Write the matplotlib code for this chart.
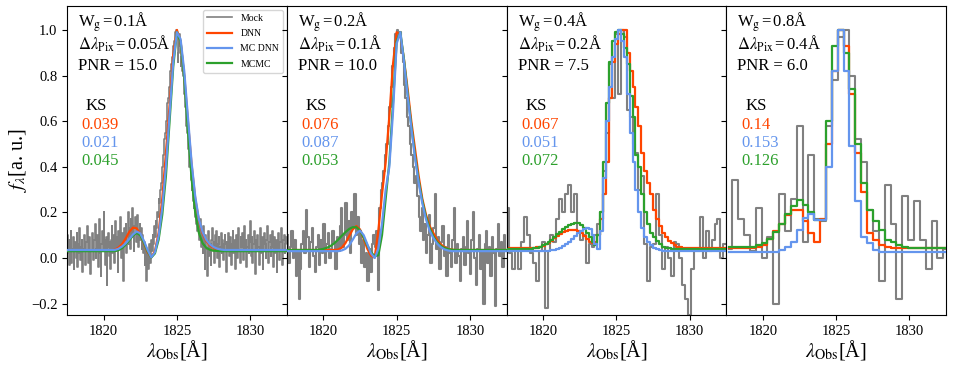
import numpy as np
import matplotlib
matplotlib.use('Agg')
import matplotlib.pyplot as plt

plt.rcParams['font.family'] = ['Liberation Serif', 'DejaVu Serif']
plt.rcParams['mathtext.fontset'] = 'stix'

# ---------------- data ----------------
panel_wg = ['0.1', '0.2', '0.4', '0.8']
panel_pix = ['0.05', '0.1', '0.2', '0.4']
panel_pnr = ['15.0', '10.0', '7.5', '6.0']
ks_dnn = ['0.039', '0.076', '0.067', '0.14']
ks_mcdnn = ['0.021', '0.087', '0.051', '0.153']
ks_mcmc = ['0.045', '0.053', '0.072', '0.126']

# model knots for panels 1 and 2 (every 0.25 A)
knots = np.arange(1817.5, 1832.51, 0.25)

dnn_1 = [0.033, 0.033, 0.033, 0.033, 0.033, 0.033, 0.033, 0.033, 0.033, 0.033, 0.033, 0.033, 0.033,
         0.036, 0.045, 0.06, 0.085, 0.115, 0.133, 0.13, 0.105, 0.065, 0.025, 0.003, 0.03, 0.11,
         0.26, 0.46, 0.67, 0.89, 1.0, 0.95, 0.8, 0.6, 0.41, 0.26, 0.165, 0.11, 0.075, 0.055, 0.044,
         0.038, 0.035,
         0.033, 0.033, 0.033, 0.033, 0.033, 0.033, 0.033, 0.033, 0.033, 0.033, 0.033, 0.033, 0.033,
         0.033, 0.033, 0.033, 0.033, 0.033]
mcdnn_1 = [0.035, 0.035, 0.035, 0.035, 0.035, 0.035, 0.035, 0.035, 0.035, 0.035, 0.035, 0.035, 0.035, 0.035,
           0.04, 0.05, 0.064, 0.083, 0.103, 0.116, 0.108, 0.075, 0.035, 0.003, 0.025, 0.095, 0.22, 0.4,
           0.63, 0.86, 0.99, 0.96, 0.82, 0.62, 0.42, 0.27, 0.17, 0.115, 0.08, 0.06, 0.048, 0.041, 0.037,
           0.035, 0.035, 0.035, 0.035, 0.035, 0.035, 0.035, 0.035, 0.035, 0.035, 0.035, 0.035, 0.035,
           0.035, 0.035, 0.035, 0.035, 0.035]
mcmc_1 = [0.03, 0.03, 0.03, 0.03, 0.03, 0.03, 0.03, 0.03, 0.03, 0.03, 0.03, 0.03, 0.03, 0.03,
          0.034, 0.043, 0.058, 0.078, 0.098, 0.11, 0.1, 0.068, 0.03, 0.002, 0.02, 0.08, 0.19, 0.36,
          0.6, 0.84, 0.99, 0.95, 0.79, 0.56, 0.35, 0.2, 0.11, 0.065, 0.045, 0.036, 0.032, 0.031, 0.03,
          0.03, 0.03, 0.03, 0.03, 0.03, 0.03, 0.03, 0.03, 0.03, 0.03, 0.03, 0.03, 0.03,
          0.03, 0.03, 0.03, 0.03, 0.03]

dnn_2 = [0.035, 0.035, 0.035, 0.035, 0.035, 0.035, 0.035, 0.035, 0.035, 0.035, 0.035, 0.035, 0.035, 0.035,
         0.037, 0.045, 0.065, 0.095, 0.125, 0.14, 0.125, 0.085, 0.04, 0.01, 0.002, 0.12, 0.28, 0.42,
         0.62, 0.85, 0.99, 0.98, 0.87, 0.74, 0.6, 0.48, 0.36, 0.26, 0.19, 0.14, 0.11, 0.08, 0.06,
         0.048, 0.04, 0.037,
         0.035, 0.035, 0.035, 0.035, 0.035, 0.035, 0.035, 0.035, 0.035, 0.035, 0.035, 0.035, 0.035,
         0.035, 0.035]
mcdnn_2 = [0.03, 0.03, 0.03, 0.03, 0.03, 0.03, 0.03, 0.03, 0.03, 0.03, 0.03, 0.03, 0.03, 0.03, 0.03,
           0.033, 0.04, 0.055, 0.08, 0.108, 0.12, 0.1, 0.06, 0.02, 0.0, 0.04, 0.15, 0.3, 0.4, 0.64,
           0.94, 0.99, 0.86, 0.71, 0.57, 0.44, 0.33, 0.24, 0.17, 0.12, 0.088, 0.064, 0.048, 0.038, 0.033,
           0.03, 0.03, 0.03, 0.03, 0.03, 0.03, 0.03, 0.03, 0.03, 0.03, 0.03, 0.03, 0.03, 0.03,
           0.03, 0.03]
mcmc_2 = [0.035, 0.035, 0.035, 0.035, 0.035, 0.035, 0.035, 0.035, 0.035,
          0.037, 0.04, 0.045, 0.053, 0.065, 0.08, 0.097, 0.113, 0.127, 0.135, 0.135, 0.12, 0.09,
          0.055, 0.025, 0.008, 0.012, 0.1, 0.26, 0.42, 0.68, 0.95, 0.99, 0.87, 0.72, 0.58, 0.45,
          0.34, 0.25, 0.18, 0.13, 0.095, 0.07, 0.053, 0.044, 0.039, 0.036,
          0.035, 0.035, 0.035, 0.035, 0.035, 0.035, 0.035, 0.035, 0.035, 0.035, 0.035, 0.035, 0.035,
          0.035, 0.035]

# mock spectrum, panel 1 (0.05 A pixels)
mock_1 = [0.10, 0.02, 0.08, -0.03, 0.05, 0.12, -0.02, 0.04, 0.09, -0.05, 0.03, 0.07, 0.00, 0.11, -0.04, 0.06, 0.02, 0.13, -0.01, 0.05,
          0.08, -0.06, 0.04, 0.10, 0.01, -0.03, 0.07, 0.14, 0.02, -0.02, 0.09, 0.05, -0.07, 0.03, 0.11, 0.06, -0.01, 0.08, 0.15, 0.00,
          0.04, 0.10, -0.04, 0.07, 0.17, 0.02, -0.08, 0.06, 0.12, 0.03, 0.20, 0.08, -0.03, 0.09, -0.12, 0.05, 0.11, 0.01, 0.07, -0.05,
          0.08, 0.14, 0.02, 0.10, -0.02, 0.06, 0.16, 0.03, 0.09, -0.06, 0.12, 0.04, 0.18, 0.07, 0.00, 0.11, 0.05, -0.10, 0.13, 0.08,
          0.15, 0.02, 0.10, 0.20, 0.06, 0.13, 0.04, 0.17, 0.09, 0.22, 0.11, 0.03, 0.14, 0.18, 0.07, 0.12, 0.19, 0.05, 0.10, 0.15,
          0.08, 0.13, 0.04, 0.10, 0.02, 0.07, -0.03, 0.05, -0.10, 0.03, 0.01, -0.05, 0.06, -0.02, 0.04, 0.08, 0.03, 0.10, 0.06, 0.14,
          0.09, 0.16, 0.13, 0.20, 0.18, 0.26, 0.24, 0.30, 0.33, 0.38, 0.40, 0.45, 0.47, 0.52, 0.55, 0.60, 0.63, 0.68, 0.70, 0.75,
          0.78, 0.82, 0.85, 0.88, 0.90, 0.93, 0.95, 0.96, 0.99, 1.00, 0.97, 0.86, 0.90, 0.98, 0.93, 0.84, 0.88, 0.82, 0.80, 0.74,
          0.72, 0.66, 0.63, 0.58, 0.55, 0.48, 0.46, 0.40, 0.42, 0.34, 0.30, 0.33, 0.25, 0.22, 0.26, 0.18, 0.15, 0.20, 0.12, 0.16,
          0.08, 0.13, 0.17, 0.05, 0.11, 0.02, 0.14, 0.07, -0.05, 0.10, 0.04, -0.08, 0.09, 0.12, 0.01, 0.06, -0.03, 0.08, 0.13, 0.03,
          0.07, -0.02, 0.10, 0.04, 0.12, 0.00, 0.06, 0.09, -0.04, 0.05, 0.11, 0.02, 0.08, -0.01, 0.06, 0.10, 0.03, -0.06, 0.07, 0.04,
          0.11, 0.01, 0.05, 0.09, -0.03, 0.06, 0.12, 0.02, 0.08, -0.05, 0.04, 0.10, 0.00, 0.07, 0.13, 0.03, -0.02, 0.09, 0.05, 0.11,
          -0.01, 0.06, 0.14, 0.03, 0.08, -0.04, 0.05, 0.10, 0.02, 0.07, 0.16, 0.01, 0.09, -0.02, 0.06, 0.12, 0.04, -0.07, 0.08, 0.03,
          0.10, 0.05, -0.03, 0.07, 0.13, 0.02, 0.09, -0.05, 0.04, 0.11, 0.06, 0.00, 0.08, 0.14, 0.03, -0.02, 0.07, 0.10, 0.01, 0.05,
          0.12, -0.04, 0.06, 0.09, 0.02, 0.08, -0.06, 0.04, 0.11, 0.05, -0.01, 0.07, 0.13, 0.03, -0.03, 0.08, 0.10, 0.02, 0.06, 0.09]

# mock spectrum, panel 2 (0.1 A pixels)
mock_2 = [0.10, -0.02, 0.05, 0.12, 0.00, 0.08, -0.08, 0.03, -0.18, -0.05, 0.06, 0.12, 0.02, 0.21, 0.09,
          -0.04, 0.07, 0.13, 0.01, -0.06, 0.05, 0.10, -0.03, 0.08, 0.02, 0.15, -0.02, 0.06, 0.11, 0.00,
          0.04, 0.12, 0.07, -0.05, 0.09, 0.03, 0.14, 0.22, 0.05, 0.10, 0.24, 0.08, 0.16, 0.02, 0.20,
          0.13, 0.28, 0.10, 0.18, 0.06, 0.12, -0.02, 0.08, -0.04, 0.02, -0.10, 0.04, -0.06, 0.06, 0.10,
          0.05, 0.12, -0.14, 0.22, 0.30, 0.33, 0.38, 0.45, 0.50, 0.58, 0.66, 0.75, 0.84, 0.92, 0.98,
          1.00, 0.97, 0.99, 0.90, 0.86, 0.76, 0.70, 0.62, 0.58, 0.50, 0.45, 0.40, 0.33, 0.36, 0.27,
          0.18, 0.12, 0.22, 0.08, 0.15, 0.02, 0.10, 0.19, -0.02, 0.06, 0.13, 0.28, 0.04, 0.09, -0.05,
          0.07, 0.14, 0.01, 0.05, -0.08, 0.10, 0.02, -0.04, 0.08, 0.22, -0.02, 0.06, 0.01, -0.10, 0.04,
          0.09, -0.03, 0.05, 0.16, 0.02, -0.07, 0.08, 0.20, 0.00, -0.12, 0.04, 0.10, -0.05, 0.03, -0.20,
          0.06, 0.12, -0.02, 0.05, -0.08, 0.09, 0.02, -0.21, 0.04, 0.15, 0.01, 0.07, -0.04, 0.10, 0.03]

# panel 3 (0.2 A pixels)
mock_3 = [0.22, 0.02, -0.05, 0.04, -0.05, 0.07, 0.18, 0.10, 0.02, -0.02,
          -0.10, 0.03, 0.07, -0.22, 0.03, 0.10, 0.07, 0.17, 0.26, 0.20,
          0.28, 0.32, 0.20, 0.28, 0.12, 0.08, 0.10, -0.02, 0.06, 0.05,
          0.10, 0.15, 0.20, 0.38, 0.55, 0.85, 0.70, 0.98, 0.72, 1.00,
          0.97, 0.65, 0.62, 0.50, 0.46, 0.30, 0.36, 0.06, -0.10, 0.05,
          0.06, 0.28, 0.10, -0.05, 0.05, 0.00, -0.08, 0.07, 0.06, 0.00,
          -0.12, -0.18, -0.25, -0.05, 0.03, 0.03, 0.18, 0.00, 0.12, 0.03,
          0.08, 0.15, 0.17, 0.00, 0.06]
dnn_3 = [0.045, 0.045, 0.045, 0.045, 0.045, 0.045, 0.045, 0.045, 0.045, 0.045,
         0.047, 0.05, 0.054, 0.06, 0.067, 0.076, 0.086, 0.096, 0.105, 0.112,
         0.118, 0.122, 0.124, 0.123, 0.118, 0.108, 0.095, 0.083, 0.072, 0.065,
         0.068, 0.1, 0.17, 0.28, 0.42, 0.7, 0.86, 0.94, 0.98, 1.0,
         1.0, 0.9, 0.82, 0.75, 0.66, 0.58, 0.46, 0.38, 0.33, 0.28,
         0.21, 0.17, 0.14, 0.11, 0.09, 0.075, 0.065, 0.055, 0.05, 0.047,
         0.045, 0.045, 0.045, 0.045, 0.045, 0.045, 0.045, 0.045, 0.045, 0.045,
         0.045, 0.045, 0.045, 0.045, 0.045]
mcdnn_3 = [0.03, 0.03, 0.03, 0.03, 0.03, 0.03, 0.03, 0.03, 0.03, 0.03,
           0.03, 0.03, 0.03, 0.03, 0.032, 0.034, 0.037, 0.04, 0.045, 0.052,
           0.06, 0.07, 0.082, 0.095, 0.108, 0.12, 0.128, 0.13, 0.125, 0.1,
           0.06, 0.04, 0.12, 0.35, 0.6, 0.75, 0.88, 0.96, 1.0, 0.95,
           0.88, 0.72, 0.55, 0.42, 0.3, 0.2, 0.13, 0.09, 0.07, 0.055,
           0.045, 0.038, 0.034, 0.032, 0.03, 0.03, 0.03, 0.03, 0.03, 0.03,
           0.03, 0.03, 0.03, 0.03, 0.03, 0.03, 0.03, 0.03, 0.03, 0.03,
           0.03, 0.03, 0.03, 0.03, 0.03]
mcmc_3 = [0.04, 0.04, 0.04, 0.04, 0.04, 0.04, 0.04, 0.04, 0.04, 0.042,
          0.045, 0.049, 0.055, 0.062, 0.071, 0.081, 0.092, 0.104, 0.116, 0.127,
          0.137, 0.145, 0.15, 0.153, 0.152, 0.145, 0.13, 0.11, 0.09, 0.07,
          0.055, 0.1, 0.2, 0.42, 0.68, 0.86, 0.95, 0.99, 1.0, 0.98,
          0.92, 0.85, 0.71, 0.62, 0.45, 0.40, 0.28, 0.2, 0.15, 0.11,
          0.09, 0.075, 0.06, 0.05, 0.045, 0.042, 0.04, 0.04, 0.04, 0.04,
          0.04, 0.04, 0.04, 0.04, 0.04, 0.04, 0.04, 0.04, 0.04, 0.04,
          0.04, 0.04, 0.04, 0.04, 0.04]

# panel 4 (0.4 A pixels)
mock_4 = [0.04, 0.34, 0.17, 0.10, 0.03, 0.22, 0.00, 0.09, -0.20, 0.28,
          0.12, 0.26, 0.58, 0.07, 0.45, 0.17, 0.16, 0.58, 0.78, 0.97,
          1.00, 0.80, 0.52, 0.42, 0.21, 0.12, -0.10, 0.32, 0.15, -0.18,
          0.27, 0.08, 0.25, 0.08, -0.05, 0.16, 0.00, 0.04]
dnn_4 = [0.042, 0.042, 0.042, 0.042, 0.042, 0.05, 0.057, 0.085, 0.12, 0.15,
         0.19, 0.21, 0.21, 0.16, 0.11, 0.072, 0.17, 0.5, 0.82, 1.0,
         0.93, 0.72, 0.46, 0.29, 0.11, 0.08, 0.055, 0.047, 0.042, 0.042,
         0.042, 0.042, 0.042, 0.042, 0.042, 0.042, 0.042, 0.042]
mcdnn_4 = [0.028, 0.028, 0.028, 0.028, 0.028, 0.028, 0.028, 0.028, 0.028, 0.035,
           0.05, 0.072, 0.123, 0.175, 0.195, 0.165, 0.165, 0.40, 0.82, 1.0,
           0.82, 0.49, 0.25, 0.093, 0.064, 0.035, 0.028, 0.028, 0.028, 0.028,
           0.028, 0.028, 0.028, 0.028, 0.028, 0.028, 0.028, 0.028]
mcmc_4 = [0.05, 0.05, 0.05, 0.05, 0.05, 0.055, 0.065, 0.085, 0.115, 0.15,
          0.195, 0.23, 0.255, 0.232, 0.2, 0.167, 0.167, 0.6, 0.93, 1.0,
          0.9, 0.74, 0.5, 0.33, 0.21, 0.16, 0.123, 0.08, 0.07, 0.055,
          0.05, 0.045, 0.045, 0.045, 0.045, 0.045, 0.045, 0.045]

# pixel grids (bin centres)
grid_1 = np.arange(300) * 0.05 + 1817.525
grid_2 = np.arange(150) * 0.1 + 1817.55
grid_3 = np.arange(75) * 0.2 + 1817.6
grid_4 = np.arange(38) * 0.4 + 1817.71

C_MOCK = 'gray'
C_DNN = 'orangered'
C_MC = 'cornflowerblue'
C_MCMC = '#2ca02c'

fig = plt.figure(figsize=(9.55, 3.67), dpi=100)
axes = fig.subplots(1, 4, sharey=True)
fig.subplots_adjust(left=0.0702, right=0.9906, top=0.9837, bottom=0.1417, wspace=0)

mocks = [(grid_1, mock_1), (grid_2, mock_2), (grid_3, mock_3), (grid_4, mock_4)]
models = [
    ('line', knots, dnn_1, mcdnn_1, mcmc_1),
    ('line', knots, dnn_2, mcdnn_2, mcmc_2),
    ('step', grid_3, dnn_3, mcdnn_3, mcmc_3),
    ('step', grid_4, dnn_4, mcdnn_4, mcmc_4),
]

lw_m = 1.6
fs_txt = 12
for i, ax in enumerate(axes):
    gx, gy = mocks[i]
    hm, = ax.step(gx, gy, where='mid', color=C_MOCK, lw=1.5 if i > 0 else 1.2, zorder=1)
    kind, mx, d, b, g = models[i]
    if kind == 'line':
        hd, = ax.plot(mx, d, color=C_DNN, lw=lw_m, zorder=2)
        hg, = ax.plot(mx, g, color=C_MCMC, lw=lw_m, zorder=3)
        hb, = ax.plot(mx, b, color=C_MC, lw=lw_m, zorder=4)
    else:
        hd, = ax.step(mx, d, where='mid', color=C_DNN, lw=lw_m, zorder=2)
        hg, = ax.step(mx, g, where='mid', color=C_MCMC, lw=lw_m, zorder=3)
        hb, = ax.step(mx, b, where='mid', color=C_MC, lw=lw_m, zorder=4)
    if i == 0:
        ax.legend([hm, hd, hb, hg], ['Mock', 'DNN', 'MC DNN', 'MCMC'], loc='upper right',
                  fontsize=7, handlelength=2.6, labelspacing=0.65, borderaxespad=0.4)

    ax.set_xlim(1817.5, 1832.5)
    ax.set_ylim(-0.25, 1.105)
    ax.set_xticks([1820, 1825, 1830])
    ax.tick_params(labelsize=10.5)
    ax.set_xlabel(r'$\lambda_{\rm Obs}$[Å]', fontsize=14.5, labelpad=0)

    ax.text(0.051, 0.932, r'W$_{\rm g}$$\,$=$\,$%sÅ' % panel_wg[i], transform=ax.transAxes,
            fontsize=fs_txt, va='baseline', ha='left')
    ax.text(0.051, 0.858, r'$\Delta\lambda_{\rm Pix}$$\,$=$\,$%sÅ' % panel_pix[i], transform=ax.transAxes,
            fontsize=fs_txt, va='baseline', ha='left')
    ax.text(0.051, 0.793, 'PNR = %s' % panel_pnr[i], transform=ax.transAxes,
            fontsize=fs_txt, va='baseline', ha='left')
    ax.text(0.086, 0.663, 'KS', transform=ax.transAxes, fontsize=fs_txt, va='baseline', ha='left')
    ax.text(0.067, 0.603, ks_dnn[i], transform=ax.transAxes, fontsize=fs_txt, va='baseline',
            ha='left', color=C_DNN)
    ax.text(0.067, 0.544, ks_mcdnn[i], transform=ax.transAxes, fontsize=fs_txt, va='baseline',
            ha='left', color=C_MC)
    ax.text(0.067, 0.484, ks_mcmc[i], transform=ax.transAxes, fontsize=fs_txt, va='baseline',
            ha='left', color=C_MCMC)

axes[0].set_yticks([-0.2, 0.0, 0.2, 0.4, 0.6, 0.8, 1.0])
axes[0].set_ylabel(r'$f_\lambda$[a. u.]', fontsize=14.5, labelpad=1)

fig.savefig('out.png', dpi=100)
